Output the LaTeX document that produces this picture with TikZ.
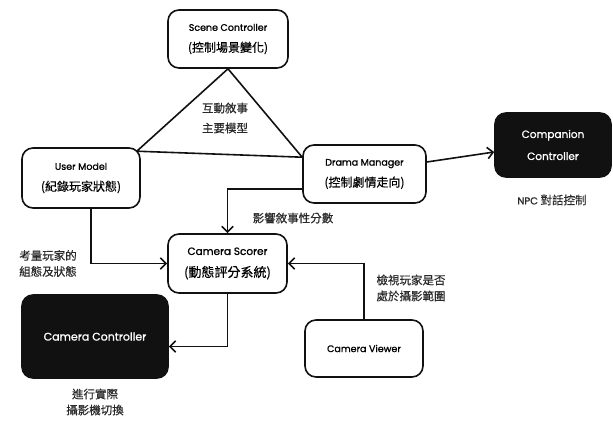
\documentclass[tikz,border=0pt]{standalone}
\usepackage{fontspec}
\setmainfont{Poppins}[UprightFeatures={FakeBold=1.2}]
\newfontfamily\cjk{Noto Sans CJK TC}[UprightFeatures={FakeBold=0.4}]
\usetikzlibrary{arrows.meta, calc}
\definecolor{ink}{HTML}{111111}
\definecolor{note}{HTML}{2A2A2A}

\begin{document}
\begin{tikzpicture}[x=1pt, y=-1pt, font=\fontsize{9.5}{21}\selectfont, line width=1.6pt,
      box/.style={draw=ink, line width=1.6pt, rounded corners=11pt, align=center, inner sep=0pt},
      dark/.style={box, fill=ink, text=white},
      lbl/.style={font=\cjk\fontsize{11.5}{16}\selectfont, text=note, align=center},
      arr/.style={-{Straight Barb[length=2mm, width=4mm]}, draw=ink}]
    \useasboundingbox (0,0) rectangle (613,421);
    \node[box, minimum width=120pt, minimum height=58pt] (scene) at (228,39) {Scene Controller\\ {\cjk\fontsize{12}{21}\selectfont (控制場景變化)}};
    \node[box, minimum width=118pt, minimum height=60pt] (user) at (81,178) {User Model\\ {\cjk\fontsize{12}{21}\selectfont (紀錄玩家狀態)}};
    \node[box, minimum width=123pt, minimum height=58pt] (drama) at (364.5,174) {Drama Manager\\ {\cjk\fontsize{12}{21}\selectfont (控制劇情走向)}};
    \node[dark, minimum width=116pt, minimum height=64pt, font=\fontsize{10.5}{22}\selectfont] (companion) at (553,145) {Companion\\ Controller};
    \node[box, minimum width=119pt, minimum height=59pt, font=\fontsize{10.5}{22}\selectfont] (scorer) at (227.5,263.5) {Camera Scorer\\ {\cjk\fontsize{13}{22}\selectfont (動態評分系統)}};
    \node[box, minimum width=118pt, minimum height=57pt] (viewer) at (364,348.5) {Camera Viewer};
    \node[dark, minimum width=146pt, minimum height=83pt, font=\fontsize{11}{22}\selectfont] (camctrl) at (95,336.5) {Camera Controller};
    % triangle of the main model
    \coordinate (tl) at ($(user.north east)+(-4,4)$);
    \coordinate (tr) at ($(drama.north west)+(0,13)$);
    \draw[ink, line join=round] (scene.south) -- (tl) -- (tr) -- cycle;
    \node[lbl, font=\cjk\fontsize{11.5}{20}\selectfont] (model) at (225,118) {互動敘事\\主要模型};
    % arrows
    \draw[arr] ($(drama.east)+(0,-12)$) -- ($(companion.west)+(0,7)$);
    \draw[arr] ($(drama.west)+(0,15)$) -| (scorer.north);
    \draw[arr] ($(user.south)+(10,0)$) |- (scorer.west);
    \draw[arr] (viewer.north) |- (scorer.east);
    \draw[arr] (scorer.south) |- ($(camctrl.east)+(0,10)$);
    % notes
    \node[lbl] (npc) at (552,200) {{\rmfamily\fontsize{10}{16}\selectfont NPC} 對話控制};
    \node[lbl] (score) at (293,218) {影響敘事性分數};
    \node[lbl] (state) at (48,263.5) {考量玩家的\\組態及狀態};
    \node[lbl] (range) at (411,288) {檢視玩家是否\\處於攝影範圍};
    \node[lbl] (switch) at (95,402) {進行實際\\攝影機切換};
\end{tikzpicture}
\end{document}
